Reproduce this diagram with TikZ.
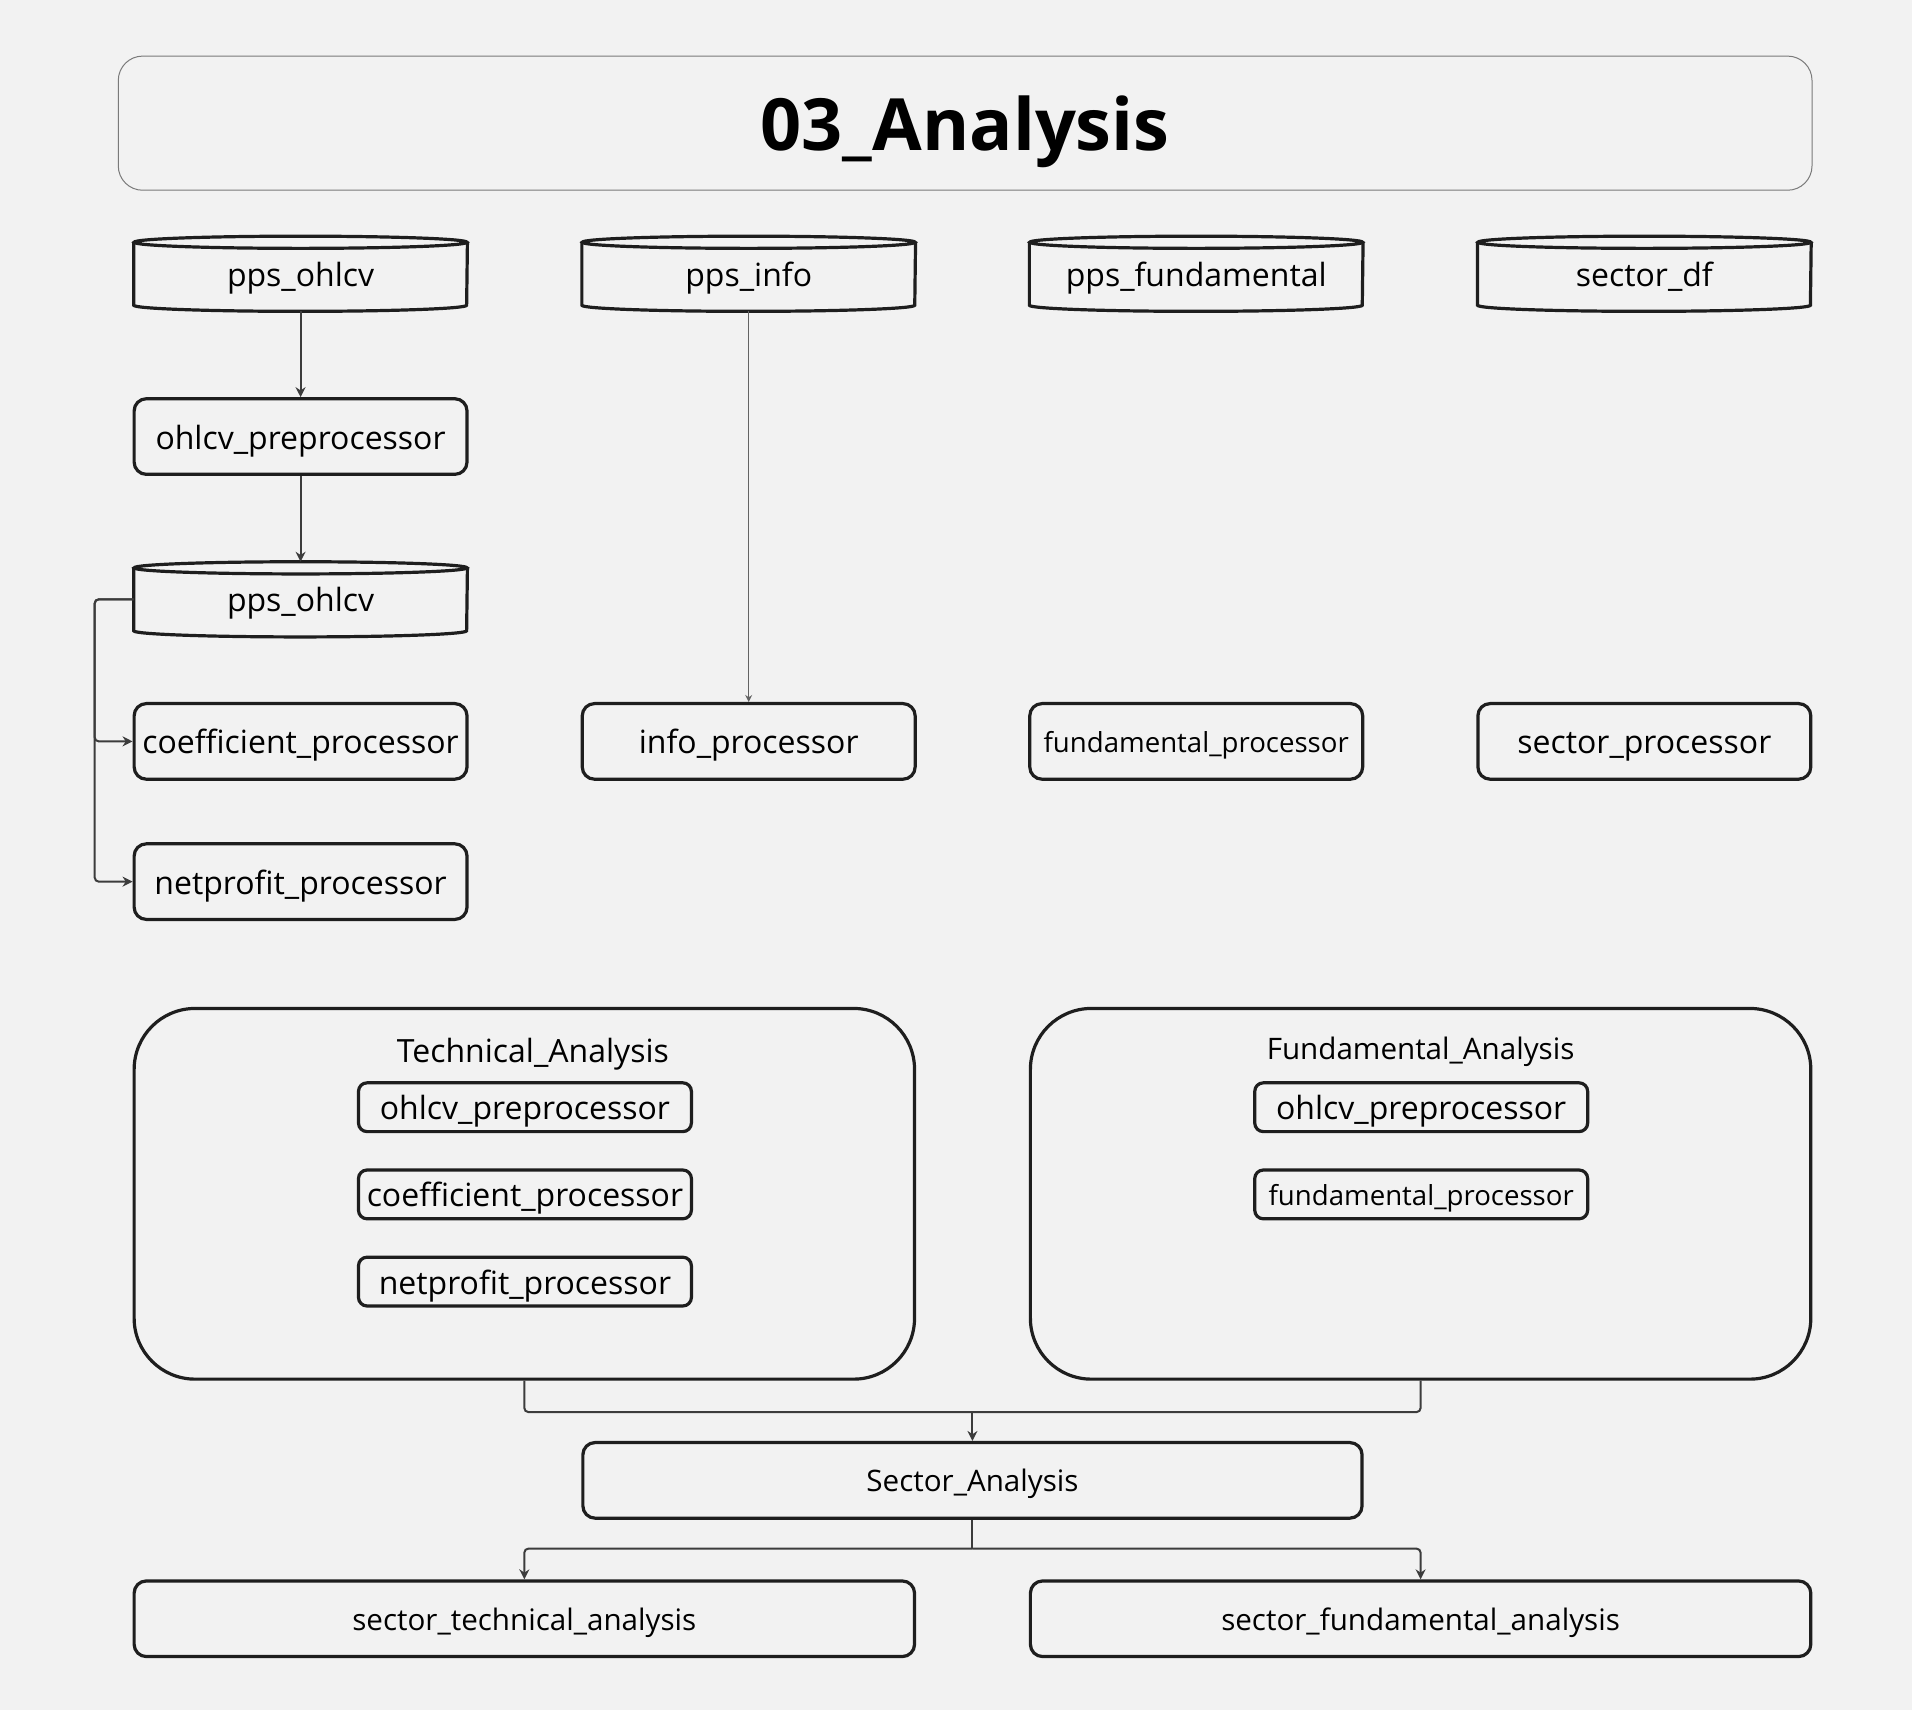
\documentclass[tikz,border=0pt]{standalone}
\usepackage{fontspec}
\setmainfont{Open Sans}
\usepackage{tikz}
\usetikzlibrary{arrows.meta,positioning}

\definecolor{bgfill}{HTML}{F2F2F2}
\definecolor{boxline}{HTML}{1E1E1E}
\definecolor{wire}{HTML}{3C3C3C}
\definecolor{frameline}{HTML}{7A7A7A}

\newlength{\gu}
\setlength{\gu}{0.6097pt}

% database drum round a named node
\newcommand{\drawdb}[1]{%
	\draw[boxline,line width=1.6pt] ([yshift=-5\gu]#1.north) ellipse [x radius=136.5\gu, y radius=5\gu];
	\draw[boxline,line width=1.6pt] ([yshift=-5\gu]#1.north west) -- ([yshift=5\gu]#1.south west)
	arc [start angle=180, end angle=360, x radius=136.5\gu, y radius=5\gu]
	-- ([yshift=-5\gu]#1.north east);
}

\tikzset{
	big/.style={font=\fontsize{16}{19}\selectfont, text height=16.3pt, text depth=3.8pt},
	mid/.style={font=\fontsize{14.8}{18}\selectfont, text height=15.1pt, text depth=3.5pt},
	small/.style={font=\fontsize{13.8}{16}\selectfont, text height=14.1pt, text depth=3.3pt},
	box/.style={draw=boxline, line width=1.6pt, rounded corners=10\gu, inner sep=0pt,
		minimum width=273\gu, minimum height=62\gu, big},
	smallbox/.style={box, minimum height=40\gu, rounded corners=7\gu},
	widebox/.style={box, minimum width=639\gu, mid},
	group/.style={draw=boxline, line width=1.6pt, rounded corners=50\gu,
		minimum width=640\gu, minimum height=304\gu},
	db/.style={inner sep=0pt, minimum width=273\gu, minimum height=61\gu, big},
	wirestyle/.style={wire, line width=1pt, rounded corners=2pt},
}

\begin{document}
\begin{tikzpicture}[x=\gu, y=\gu, >={Stealth[length=5pt,width=5pt]}]

	\fill[bgfill] (0,0) rectangle (1568,-1402);
	\useasboundingbox (0,0) rectangle (1568,-1402);
	
	% title
	\node[draw=frameline, line width=0.5pt, rounded corners=20\gu, minimum width=1389\gu,
	minimum height=110\gu, font=\fontsize{36}{42}\selectfont\bfseries,
	text height=36pt, text depth=8.6pt]
	(title) at (791.5,-101) {03\_Analysis};
	
	% sources
	\node[db] (ohlcv)  at (246.5,-224.5)  {pps\_ohlcv};
	\node[db] (info)   at (614,-224.5)    {pps\_info};
	\node[db] (fund)   at (981,-224.5)    {pps\_fundamental};
	\node[db] (sector) at (1348.5,-224.5) {sector\_df};
	\drawdb{ohlcv}
	\drawdb{info}
	\drawdb{fund}
	\drawdb{sector}
	
	\node[box] (prep) at (246.5,-358) {ohlcv\_preprocessor};
	\node[db] (ohlcvb) at (246.5,-491.5) {pps\_ohlcv};
	\drawdb{ohlcvb}
	
	% processors
	\node[box] (coef)    at (246.5,-608)  {coefficient\_processor};
	\node[box] (infop)   at (614,-608)    {info\_processor};
	\node[box, small] (fundp) at (981,-608) {fundamental\_processor};
	\node[box] (sectorp) at (1348.5,-608) {sector\_processor};
	\node[box] (netp)    at (246.5,-723)  {netprofit\_processor};
	
	% analysis groups
	\node[group] (tech) at (430,-979) {};
	\node[big] (techlbl) at (437,-861) {Technical\_Analysis};
	\node[smallbox] (tprep) at (430.5,-908)   {ohlcv\_preprocessor};
	\node[smallbox] (tcoef) at (430.5,-979.5) {coefficient\_processor};
	\node[smallbox] (tnetp) at (430.5,-1051)  {netprofit\_processor};
	
	\node[group] (fanal) at (1165,-979) {};
	\node[mid] (fundlbl) at (1165,-859) {Fundamental\_Analysis};
	\node[smallbox] (fprep) at (1165.5,-908) {ohlcv\_preprocessor};
	\node[smallbox, small] (ffund) at (1165.5,-979.5) {fundamental\_processor};
	
	% sector
	\node[widebox] (secan) at (797.5,-1214) {Sector\_Analysis};
	\node[widebox, minimum width=640\gu] (sectech) at (430,-1327.5)  {sector\_technical\_analysis};
	\node[widebox, minimum width=640\gu] (secfund) at (1165,-1327.5) {sector\_fundamental\_analysis};
	
	\coordinate (join)  at (797.5,-1158);
	\coordinate (split) at (797.5,-1270);
	
	% wires
	\draw[wirestyle,->] (ohlcv.south) -- (prep.north);
	\draw[wirestyle,->] (prep.south) -- (ohlcvb.north);
	\draw[wire!80!white, line width=0.6pt, -{Stealth[length=3.5pt,width=3.5pt]}] (info.south) -- (infop.north);
	\draw[wirestyle,->] (ohlcvb.west) -- ++(-32,0) |- (coef.west);
	\draw[wirestyle,->] (ohlcvb.west) -- ++(-32,0) |- (netp.west);
	
	\draw[wirestyle] (tech.south) |- (join) -| (fanal.south);
	\draw[wirestyle,->] (join) -- (secan.north);
	\draw[wirestyle] (secan.south) -- (split);
	\draw[wirestyle,->] (split) -| (sectech.north);
	\draw[wirestyle,->] (split) -| (secfund.north);
	
\end{tikzpicture}
\end{document}
